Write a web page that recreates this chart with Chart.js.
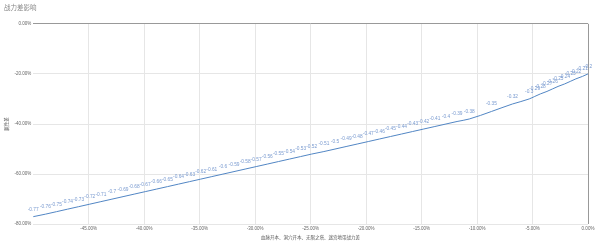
<!DOCTYPE html>
<html>
<head>
<meta charset="utf-8">
<script src="https://cdn.jsdelivr.net/npm/chart.js@4"></script>
<style>
  html, body { margin: 0; padding: 0; background: #fff; }
  #wrap { width: 600px; height: 246px; }
</style>
</head>
<body>
<div id="wrap"><canvas id="myChart"></canvas></div>
<script>
// power gap (x) and attribute gap (y)
var powerGap = [-0.500, -0.489, -0.479, -0.469, -0.459, -0.449, -0.439, -0.429, -0.419, -0.409,
    -0.399, -0.389, -0.379, -0.369, -0.359, -0.349, -0.339, -0.329, -0.319, -0.309,
    -0.299, -0.289, -0.279, -0.269, -0.259, -0.249, -0.238, -0.228, -0.218, -0.208,
    -0.198, -0.188, -0.178, -0.168, -0.158, -0.148, -0.138, -0.128, -0.118, -0.107,
    -0.087, -0.068, -0.053, -0.048, -0.043, -0.037, -0.032, -0.027, -0.021, -0.016,
    -0.011, -0.005, 0];
var attrGap = [-0.77, -0.76, -0.75, -0.74, -0.73, -0.72, -0.71, -0.7, -0.69, -0.68,
    -0.67, -0.66, -0.65, -0.64, -0.63, -0.62, -0.61, -0.6, -0.59, -0.58,
    -0.57, -0.56, -0.55, -0.54, -0.53, -0.52, -0.51, -0.5, -0.49, -0.48,
    -0.47, -0.46, -0.45, -0.44, -0.43, -0.42, -0.41, -0.4, -0.39, -0.38,
    -0.35, -0.32, -0.3, -0.29, -0.28, -0.27, -0.26, -0.25, -0.24, -0.23,
    -0.22, -0.21, -0.2];
var xTicks = [-0.45, -0.4, -0.35, -0.3, -0.25, -0.2, -0.15, -0.1, -0.05, 0];
var yTicks = [0, -0.2, -0.4, -0.6, -0.8];

var points = powerGap.map(function (x, i) { return { x: x, y: attrGap[i] }; });

function pct(v) {
    return (Math.round(v * 10000) / 100).toFixed(2) + '%';
}

var fam = '"Liberation Sans", "Noto Sans CJK SC", sans-serif';

// small value labels above each point
var valueLabels = {
    id: 'valueLabels',
    afterDatasetsDraw: function (chart) {
        var c = chart.ctx;
        var meta = chart.getDatasetMeta(0);
        c.save();
        c.font = '4.8px ' + fam;
        c.fillStyle = '#7a9bd0';
        c.textAlign = 'center';
        c.textBaseline = 'bottom';
        meta.data.forEach(function (el, i) {
            c.fillText(String(attrGap[i]), el.x, el.y - 5);
        });
        c.restore();
    }
};

var ctx = document.getElementById('myChart');
var myChart = new Chart(ctx, {
    type: 'line',
    data: {
        datasets: [{
            data: points,
            borderColor: '#5286c4',
            borderWidth: 1,
            pointRadius: 0,
            cubicInterpolationMode: 'monotone',
            fill: false
        }]
    },
    options: {
        responsive: true,
        maintainAspectRatio: false,
        animation: false,
        layout: { padding: { left: 4, right: 12, top: 0, bottom: 5 } },
        plugins: {
            legend: { display: false },
            tooltip: { enabled: false },
            title: {
                display: true,
                text: '战力差影响',
                align: 'start',
                color: '#888',
                font: { family: fam, size: 6.5, weight: 'normal' },
                padding: { top: 4, bottom: 12 }
            }
        },
        scales: {
            x: {
                type: 'linear',
                min: -0.5,
                max: 0,
                afterBuildTicks: function (axis) {
                    axis.ticks = [-0.5].concat(xTicks).map(function (v) { return { value: v }; });
                },
                ticks: {
                    color: '#666',
                    font: { family: fam, size: 4.5 },
                    padding: 2,
                    maxRotation: 0,
                    callback: function (v) { return v <= -0.499 ? '' : pct(v); }
                },
                grid: {
                    drawTicks: false,
                    color: function (c) {
                        if (c.tick && c.tick.value >= -0.0001) return '#999';
                        if (c.tick && c.tick.value <= -0.499) return 'rgba(0,0,0,0)';
                        return '#e6e6e6';
                    },
                    lineWidth: 1
                },
                border: { display: false },
                title: {
                    display: true,
                    text: '血脉开本、洞穴开本、无限之塔、迷宫地带战力差',
                    color: '#555',
                    font: { family: fam, size: 4.5 },
                    padding: { top: 1, bottom: 1 }
                }
            },
            y: {
                min: -0.8,
                max: 0,
                afterBuildTicks: function (axis) {
                    axis.ticks = yTicks.map(function (v) { return { value: v }; });
                },
                ticks: {
                    color: '#666',
                    font: { family: fam, size: 4.5 },
                    padding: 2,
                    callback: function (v) { return pct(v); }
                },
                grid: {
                    drawTicks: false,
                    color: function (c) {
                        if (c.tick && c.tick.value >= -0.0001) return '#999';
                        return '#e6e6e6';
                    }
                },
                border: { display: false },
                title: {
                    display: true,
                    text: '属性差',
                    color: '#555',
                    font: { family: fam, size: 4.5 },
                    padding: { top: 0, bottom: 3 }
                }
            }
        }
    },
    plugins: [valueLabels]
});
</script>
</body>
</html>
